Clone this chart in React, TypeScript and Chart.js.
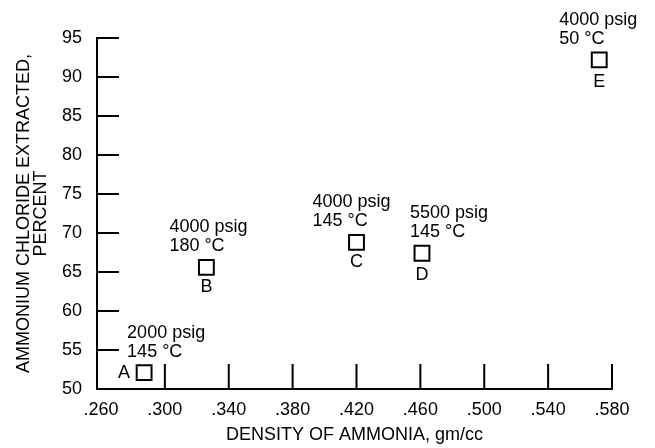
import { useEffect, useRef } from 'react';
import { Chart, registerables } from 'chart.js';

Chart.register(...registerables);

// ---- data ----
const densities = [0.287, 0.326, 0.42, 0.461, 0.572];
const extracted = [52.1, 65.6, 68.8, 67.4, 92.2];
const pointLetters = ['A', 'B', 'C', 'D', 'E'];
const pressureLabels = ['2000 psig', '4000 psig', '4000 psig', '5500 psig', '4000 psig'];
const temperatureLabels = ['145 °C', '180 °C', '145 °C', '145 °C', '50 °C'];

const xTickValues = [0.26, 0.3, 0.34, 0.38, 0.42, 0.46, 0.5, 0.54, 0.58];
const yTickValues = [50, 55, 60, 65, 70, 75, 80, 85, 90, 95];
const xMin = 0.2575;
const xMax = 0.58;
const yMin = 50;
const yMax = 95;

const xTitle = 'DENSITY OF AMMONIA, gm/cc';
const yTitle = ['AMMONIUM CHLORIDE EXTRACTED,', 'PERCENT'];

// ---- annotation placement (styling) ----
const labelDx = [-17, -37, -44, -12, -40];
const letterDx = [-20, 0, 0, 0, 0];
const letterDy = [0, 20, 20, 22, 22];

const FONT = '"Liberation Sans", Arial, Helvetica, sans-serif';
const FS = 18;

const annotate = {
  id: 'annotate',
  afterDatasetsDraw(chart: any) {
    const ctx = chart.ctx;
    const meta = chart.getDatasetMeta(0);
    const area = chart.chartArea;
    ctx.save();
    // inward tick marks
    const xs = chart.scales.x;
    const ys = chart.scales.y;
    ctx.strokeStyle = '#000';
    ctx.lineWidth = 2;
    ctx.beginPath();
    xs.ticks.forEach((t: any, i: number) => {
      if (i === 0) return;
      const px = xs.getPixelForValue(t.value);
      ctx.moveTo(px, area.bottom);
      ctx.lineTo(px, area.bottom - 25);
    });
    ys.ticks.forEach((t: any, i: number) => {
      if (i === 0) return;
      const py = ys.getPixelForValue(t.value);
      ctx.moveTo(area.left, py);
      ctx.lineTo(area.left + 22, py);
    });
    ctx.stroke();

    // point annotations
    ctx.fillStyle = '#000';
    ctx.font = `${FS}px ${FONT}`;
    ctx.textBaseline = 'middle';
    meta.data.forEach((el: any, i: number) => {
      const { x, y } = el.getProps(['x', 'y'], true);
      ctx.textAlign = 'left';
      ctx.fillText(pressureLabels[i], x + labelDx[i], y - 40);
      ctx.fillText(temperatureLabels[i], x + labelDx[i], y - 21);
      ctx.textAlign = 'center';
      ctx.fillText(pointLetters[i], x + letterDx[i], y + letterDy[i]);
    });
    ctx.restore();
  },
};

export default function App() {
  const ref = useRef<HTMLCanvasElement | null>(null);

  useEffect(() => {
    if (!ref.current) return;
    Chart.defaults.font.family = FONT;
    Chart.defaults.font.size = FS;
    Chart.defaults.color = '#000';
    const chart = new Chart(ref.current, {
      type: 'scatter',
      data: {
        datasets: [
          {
            data: densities.map((d, i) => ({ x: d, y: extracted[i] })),
            pointStyle: 'rect',
            pointRadius: 10.5,
            pointHoverRadius: 10.5,
            borderWidth: 2,
            borderColor: '#000',
            backgroundColor: '#fff',
            showLine: false,
            clip: false as any,
          },
        ],
      },
      options: {
        animation: false,
        responsive: true,
        maintainAspectRatio: false,
        events: [],
        layout: { padding: { top: 38, right: 43, bottom: 0, left: 0 } },
        plugins: { legend: { display: false }, tooltip: { enabled: false } },
        scales: {
          x: {
            type: 'linear',
            min: xMin,
            max: xMax,
            afterBuildTicks: (s: any) => {
              s.ticks = xTickValues.map((v) => ({ value: v }));
            },
            grid: { display: true, drawOnChartArea: false, drawTicks: false },
            border: { display: true, color: '#000', width: 2 },
            ticks: {
              padding: 10,
              color: '#000',
              font: { size: FS },
              maxRotation: 0,
              autoSkip: false,
              callback: (v: any) => Number(v).toFixed(3).replace(/^0/, ''),
            },
            title: {
              display: true,
              text: xTitle,
              color: '#000',
              font: { size: FS },
              padding: { top: 0, bottom: 2 },
            },
            afterFit: (s: any) => {
              s.height = 59;
            },
          },
          y: {
            type: 'linear',
            min: yMin,
            max: yMax,
            afterBuildTicks: (s: any) => {
              s.ticks = yTickValues.map((v) => ({ value: v }));
            },
            grid: { display: true, drawOnChartArea: false, drawTicks: false },
            border: { display: true, color: '#000', width: 2 },
            ticks: {
              padding: 15,
              color: '#000',
              font: { size: FS },
              autoSkip: false,
            },
            title: {
              display: true,
              text: yTitle,
              color: '#000',
              font: { size: FS, lineHeight: 0.95 },
              padding: { top: 15, bottom: 0 },
            },
            afterFit: (s: any) => {
              s.width = 97;
            },
          },
        },
      },
      plugins: [annotate],
    });
    return () => chart.destroy();
  }, []);

  return (
    <div style={{ position: 'fixed', left: 0, top: 0, width: 655, height: 448, background: '#fff' }}>
      <canvas ref={ref} />
    </div>
  );
}
